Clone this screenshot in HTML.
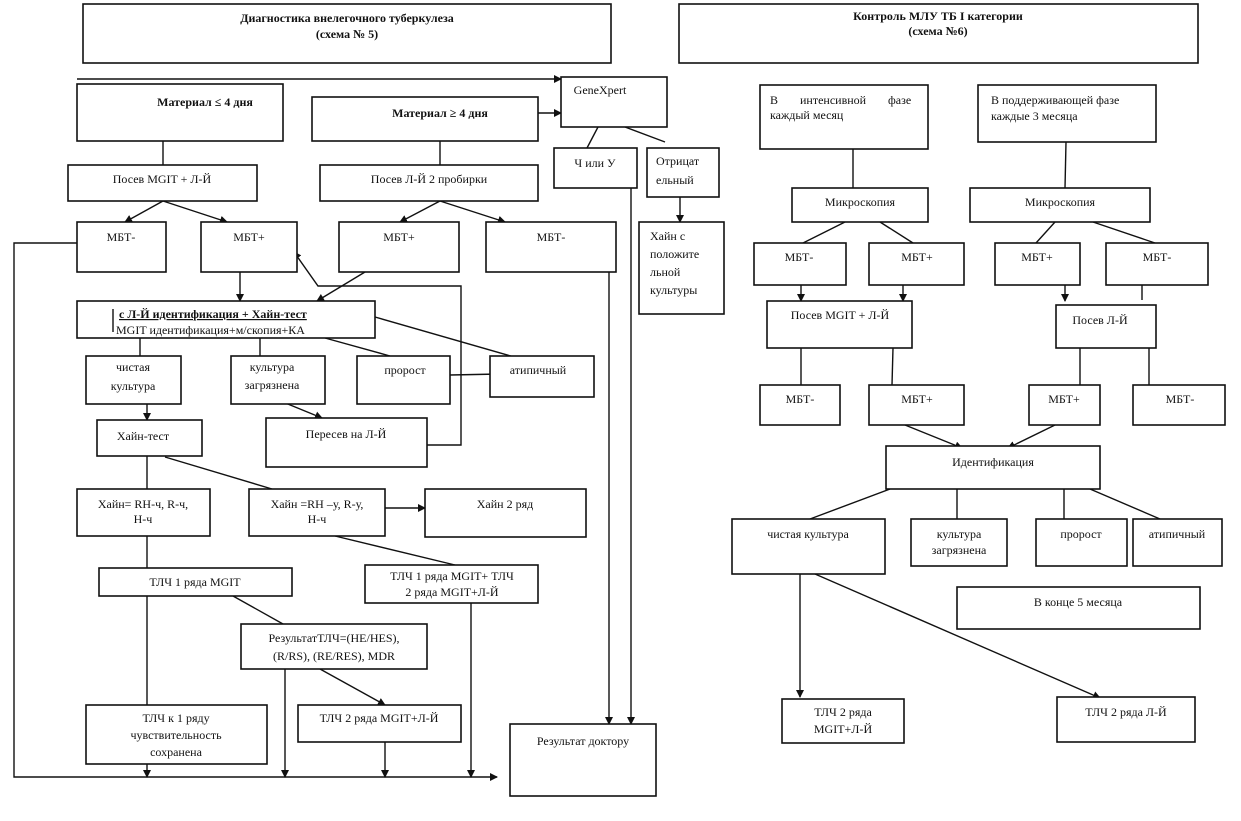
<!DOCTYPE html>
<html><head><meta charset="utf-8"><style>
html,body{margin:0;padding:0;background:#fff}
svg{display:block}
text{font-family:"Liberation Serif","Noto Serif CJK SC",serif;font-size:12px;fill:#111}
.b{font-weight:bold}
rect{fill:#fff;stroke:#111;stroke-width:1.6}
line,polyline{stroke:#111;stroke-width:1.4;fill:none}
</style></head><body>
<svg width="1241" height="821" viewBox="0 0 1241 821" xmlns="http://www.w3.org/2000/svg">
<defs><marker id="a" markerWidth="8" markerHeight="8" refX="7" refY="4" orient="auto" markerUnits="userSpaceOnUse"><path d="M0,0 L8,4 L0,8 z" fill="#111"/></marker></defs>

<!-- titles -->
<rect x="83" y="4" width="528" height="59"/>
<text x="347" y="22" text-anchor="middle" class="b" font-size="13">Диагностика внелегочного туберкулеза</text>
<text x="347" y="38" text-anchor="middle" class="b" font-size="13">(схема № 5)</text>
<rect x="679" y="4" width="519" height="59"/>
<text x="938" y="20" text-anchor="middle" class="b" font-size="11">Контроль МЛУ ТБ  I категории</text>
<text x="938" y="35" text-anchor="middle" class="b" font-size="11">(схема №6)</text>

<!-- left scheme lines -->
<line x1="77" y1="79" x2="561" y2="79" marker-end="url(#a)"/>
<line x1="538" y1="113" x2="561" y2="113" marker-end="url(#a)"/>
<line x1="598" y1="127" x2="587" y2="148"/>
<line x1="625" y1="127" x2="665" y2="142"/>
<line x1="680" y1="197" x2="680" y2="222" marker-end="url(#a)"/>
<line x1="163" y1="141" x2="163" y2="165"/>
<line x1="440" y1="141" x2="440" y2="165"/>
<line x1="163" y1="201" x2="125" y2="222" marker-end="url(#a)"/>
<line x1="163" y1="201" x2="227" y2="222" marker-end="url(#a)"/>
<line x1="440" y1="201" x2="400" y2="222" marker-end="url(#a)"/>
<line x1="440" y1="201" x2="505" y2="222" marker-end="url(#a)"/>
<polyline points="77,243 14,243 14,777 497,777" marker-end="url(#a)"/>
<line x1="240" y1="272" x2="240" y2="301" marker-end="url(#a)"/>
<line x1="365" y1="272" x2="317" y2="301" marker-end="url(#a)"/>
<polyline points="427,445 461,445 461,286 318,286 294,252" marker-end="url(#a)"/>
<line x1="609" y1="272" x2="609" y2="724" marker-end="url(#a)"/>
<line x1="631" y1="188" x2="631" y2="724" marker-end="url(#a)"/>
<line x1="140" y1="338" x2="140" y2="356"/>
<line x1="260" y1="338" x2="260" y2="356"/>
<line x1="325" y1="338" x2="390" y2="356"/>
<line x1="375" y1="317" x2="535" y2="363"/>
<line x1="450" y1="375" x2="500" y2="374"/>
<line x1="147" y1="404" x2="147" y2="420" marker-end="url(#a)"/>
<line x1="278" y1="400" x2="322" y2="418" marker-end="url(#a)"/>
<line x1="147" y1="456" x2="147" y2="489"/>
<line x1="165" y1="457" x2="272" y2="489"/>
<line x1="385" y1="508" x2="425" y2="508" marker-end="url(#a)"/>
<line x1="335" y1="536" x2="455" y2="565"/>
<line x1="147" y1="536" x2="147" y2="568"/>
<line x1="233" y1="596" x2="283" y2="624"/>
<line x1="147" y1="596" x2="147" y2="705"/>
<line x1="147" y1="764" x2="147" y2="777" marker-end="url(#a)"/>
<line x1="285" y1="669" x2="285" y2="777" marker-end="url(#a)"/>
<line x1="320" y1="669" x2="385" y2="705" marker-end="url(#a)"/>
<line x1="385" y1="742" x2="385" y2="777" marker-end="url(#a)"/>
<line x1="471" y1="603" x2="471" y2="777" marker-end="url(#a)"/>

<!-- left boxes -->
<rect x="77" y="84" width="206" height="57"/><text x="205" y="106" text-anchor="middle" class="b" font-size="14">Материал ≤ 4 дня</text>
<rect x="312" y="97" width="226" height="44"/><text x="440" y="117" text-anchor="middle" class="b" font-size="14">Материал  ≥ 4 дня</text>
<rect x="561" y="77" width="106" height="50"/><text x="600" y="94" text-anchor="middle" font-size="11">GeneXpert</text>
<rect x="554" y="148" width="83" height="40"/><text x="595" y="167" text-anchor="middle">Ч или У</text>
<rect x="647" y="148" width="72" height="49"/><text x="656" y="165">Отрицат</text><text x="656" y="184">ельный</text>
<rect x="639" y="222" width="85" height="92"/><text x="650" y="240">Хайн с</text><text x="650" y="258">положите</text><text x="650" y="276">льной</text><text x="650" y="294">культуры</text>
<rect x="68" y="165" width="189" height="36"/><text x="162" y="183" text-anchor="middle">Посев MGIT + Л-Й</text>
<rect x="320" y="165" width="218" height="36"/><text x="429" y="183" text-anchor="middle">Посев  Л-Й 2 пробирки</text>
<rect x="77" y="222" width="89" height="50"/><text x="121" y="241" text-anchor="middle">МБТ-</text>
<rect x="201" y="222" width="96" height="50"/><text x="249" y="241" text-anchor="middle">МБТ+</text>
<rect x="339" y="222" width="120" height="50"/><text x="399" y="241" text-anchor="middle">МБТ+</text>
<rect x="486" y="222" width="130" height="50"/><text x="551" y="241" text-anchor="middle">МБТ-</text>
<rect x="77" y="301" width="298" height="37"/>
<line x1="113" y1="309" x2="113" y2="332"/>
<text x="119" y="318" text-decoration="underline" class="b">с Л-Й идентификация + Хайн-тест</text>
<text x="116" y="334" font-size="11.5">MGIT идентификация+м/скопия+КА</text>
<rect x="86" y="356" width="95" height="48"/><text x="133" y="371" text-anchor="middle">чистая</text><text x="133" y="390" text-anchor="middle">культура</text>
<rect x="231" y="356" width="94" height="48"/><text x="272" y="371" text-anchor="middle">культура</text><text x="272" y="389" text-anchor="middle" font-size="10.5">загрязнена</text>
<rect x="357" y="356" width="93" height="48"/><text x="405" y="374" text-anchor="middle">пророст</text>
<rect x="490" y="356" width="104" height="41"/><text x="538" y="374" text-anchor="middle">атипичный</text>
<rect x="97" y="420" width="105" height="36"/><text x="143" y="440" text-anchor="middle">Хайн-тест</text>
<rect x="266" y="418" width="161" height="49"/><text x="346" y="438" text-anchor="middle">Пересев на Л-Й</text>
<rect x="77" y="489" width="133" height="47"/><text x="143" y="508" text-anchor="middle">Хайн= RH-ч, R-ч,</text><text x="143" y="523" text-anchor="middle">H-ч</text>
<rect x="249" y="489" width="136" height="47"/><text x="317" y="508" text-anchor="middle">Хайн =RH –у, R-у,</text><text x="317" y="523" text-anchor="middle">H-ч</text>
<rect x="425" y="489" width="161" height="48"/><text x="505" y="508" text-anchor="middle">Хайн 2 ряд</text>
<rect x="365" y="565" width="173" height="38"/><text x="452" y="580" text-anchor="middle">ТЛЧ 1 ряда MGIT+ ТЛЧ</text><text x="452" y="596" text-anchor="middle">2 ряда MGIT+Л-Й</text>
<rect x="99" y="568" width="193" height="28"/><text x="195" y="586" text-anchor="middle">ТЛЧ 1 ряда MGIT</text>
<rect x="241" y="624" width="186" height="45"/><text x="334" y="642" text-anchor="middle">РезультатТЛЧ=(HE/HES),</text><text x="334" y="660" text-anchor="middle">(R/RS), (RE/RES), MDR</text>
<rect x="86" y="705" width="181" height="59"/><text x="176" y="722" text-anchor="middle">ТЛЧ к 1  ряду</text><text x="176" y="739" text-anchor="middle">чувствительность</text><text x="176" y="756" text-anchor="middle">сохранена</text>
<rect x="298" y="705" width="163" height="37"/><text x="379" y="722" text-anchor="middle">ТЛЧ 2 ряда MGIT+Л-Й</text>
<rect x="510" y="724" width="146" height="72"/><text x="583" y="745" text-anchor="middle">Результат доктору</text>

<!-- right scheme lines -->
<line x1="853" y1="149" x2="853" y2="188"/>
<line x1="1066" y1="142" x2="1065" y2="188"/>
<line x1="845" y1="222" x2="803" y2="243"/>
<line x1="880" y1="222" x2="913" y2="243"/>
<line x1="1055" y1="222" x2="1036" y2="243"/>
<line x1="1093" y1="222" x2="1155" y2="243"/>
<line x1="801" y1="285" x2="801" y2="301" marker-end="url(#a)"/>
<line x1="903" y1="285" x2="903" y2="301" marker-end="url(#a)"/>
<line x1="1065" y1="285" x2="1065" y2="301" marker-end="url(#a)"/>
<line x1="1142" y1="285" x2="1142" y2="300"/>
<line x1="801" y1="348" x2="801" y2="385"/>
<line x1="893" y1="348" x2="892" y2="385"/>
<line x1="1080" y1="348" x2="1080" y2="385"/>
<line x1="1149" y1="348" x2="1149" y2="385"/>
<line x1="905" y1="425" x2="962" y2="448" marker-end="url(#a)"/>
<line x1="1055" y1="425" x2="1008" y2="448" marker-end="url(#a)"/>
<line x1="890" y1="489" x2="810" y2="519"/>
<line x1="957" y1="489" x2="957" y2="519"/>
<line x1="1064" y1="489" x2="1064" y2="519"/>
<line x1="1090" y1="489" x2="1160" y2="519"/>
<line x1="800" y1="574" x2="800" y2="697" marker-end="url(#a)"/>
<line x1="815" y1="574" x2="1100" y2="698" marker-end="url(#a)"/>

<!-- right boxes -->
<rect x="760" y="85" width="168" height="64"/><text x="770" y="104">В</text><text x="800" y="104">интенсивной</text><text x="888" y="104">фазе</text><text x="770" y="119">каждый месяц</text>
<rect x="978" y="85" width="178" height="57"/><text x="991" y="104">В поддерживающей фазе</text><text x="991" y="120">каждые 3 месяца</text>
<rect x="792" y="188" width="136" height="34"/><text x="860" y="206" text-anchor="middle">Микроскопия</text>
<rect x="970" y="188" width="180" height="34"/><text x="1060" y="206" text-anchor="middle">Микроскопия</text>
<rect x="754" y="243" width="92" height="42"/><text x="799" y="261" text-anchor="middle">МБТ-</text>
<rect x="869" y="243" width="95" height="42"/><text x="917" y="261" text-anchor="middle">МБТ+</text>
<rect x="995" y="243" width="85" height="42"/><text x="1037" y="261" text-anchor="middle">МБТ+</text>
<rect x="1106" y="243" width="102" height="42"/><text x="1157" y="261" text-anchor="middle">МБТ-</text>
<rect x="767" y="301" width="145" height="47"/><text x="840" y="319" text-anchor="middle">Посев MGIT + Л-Й</text>
<rect x="1056" y="305" width="100" height="43"/><text x="1100" y="324" text-anchor="middle">Посев  Л-Й</text>
<rect x="760" y="385" width="80" height="40"/><text x="800" y="403" text-anchor="middle">МБТ-</text>
<rect x="869" y="385" width="95" height="40"/><text x="917" y="403" text-anchor="middle">МБТ+</text>
<rect x="1029" y="385" width="71" height="40"/><text x="1064" y="403" text-anchor="middle">МБТ+</text>
<rect x="1133" y="385" width="92" height="40"/><text x="1180" y="403" text-anchor="middle">МБТ-</text>
<rect x="886" y="446" width="214" height="43"/><text x="993" y="466" text-anchor="middle">Идентификация</text>
<rect x="732" y="519" width="153" height="55"/><text x="808" y="538" text-anchor="middle">чистая культура</text>
<rect x="911" y="519" width="96" height="47"/><text x="959" y="538" text-anchor="middle">культура</text><text x="959" y="554" text-anchor="middle">загрязнена</text>
<rect x="1036" y="519" width="91" height="47"/><text x="1081" y="538" text-anchor="middle">пророст</text>
<rect x="1133" y="519" width="89" height="47"/><text x="1177" y="538" text-anchor="middle">атипичный</text>
<rect x="957" y="587" width="243" height="42"/><text x="1078" y="606" text-anchor="middle">В конце 5 месяца</text>
<rect x="782" y="699" width="122" height="44"/><text x="843" y="716" text-anchor="middle">ТЛЧ 2 ряда</text><text x="843" y="733" text-anchor="middle">MGIT+Л-Й</text>
<rect x="1057" y="697" width="138" height="45"/><text x="1126" y="716" text-anchor="middle">ТЛЧ 2 ряда Л-Й</text>
</svg>
</body></html>
